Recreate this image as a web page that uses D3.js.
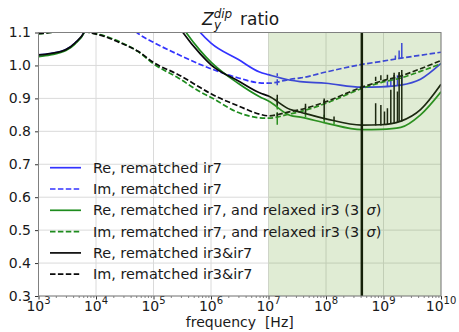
<!DOCTYPE html>
<html>
<head>
<meta charset="utf-8">
<script src="https://cdn.jsdelivr.net/npm/d3@7"></script>
<style>
  body { margin: 0; background: #fff; }
  text { font-family: 'DejaVu Sans', sans-serif; fill: #1a1a1a; }
</style>
</head>
<body>
<div id="container"></div>
<script>
// frequency grid [Hz]
const freq = [1e3, 1.6e3, 3e3, 4.3e3, 6.4e3, 1.4e4, 2.7e4, 5.4e4, 1e5, 2.7e5, 6.5e5, 1e6,
  3e6, 7e6, 1e7, 2.4e7, 3.6e7, 1e8, 4.2e8, 9e8, 2e9, 4.4e9, 1e10]

const reIr7 = [1.032, 1.036, 1.048, 1.068, 1.105, 1.4, 1.5, 1.45, 1.33, 1.2, 1.1, 1.068,
  1.018, 0.98, 0.972, 0.955, 0.951, 0.946, 0.934, 0.935, 0.94, 0.958, 1.006]
const imIr7 = [1.2, 1.2, 1.2, 1.2, 1.2, 1.2, 1.15, 1.097, 1.07, 1.033, 1.003, 0.99,
  0.962, 0.947, 0.946, 0.958, 0.962, 0.98, 1.003, 1.012, 1.022, 1.031, 1.04]
const reRelax = [1.027, 1.032, 1.045, 1.065, 1.103, 1.35, 1.45, 1.4, 1.27, 1.135, 1.045, 1.01,
  0.945, 0.905, 0.892, 0.848, 0.843, 0.825, 0.805, 0.806, 0.812, 0.85, 0.92]
const imRelax = [1.096, 1.1, 1.113, 1.116, 1.104, 1.09, 1.07, 1.042, 1.005, 0.962, 0.92, 0.903,
  0.857, 0.841, 0.84, 0.853, 0.86, 0.885, 0.93, 0.948, 0.962, 0.982, 1.005]
const reIr3ir7 = [1.032, 1.036, 1.048, 1.068, 1.105, 1.35, 1.45, 1.4, 1.25, 1.12, 1.035, 1.002,
  0.953, 0.917, 0.907, 0.866, 0.858, 0.838, 0.819, 0.82, 0.831, 0.866, 0.943]
const imIr3ir7 = [1.097, 1.1, 1.115, 1.118, 1.105, 1.088, 1.068, 1.043, 1.009, 0.972, 0.933, 0.914,
  0.877, 0.852, 0.847, 0.86, 0.866, 0.89, 0.934, 0.952, 0.968, 0.99, 1.015]

// resonance spikes: [frequency, base, tip]
const reIr7Spikes = [[1.42e7, 0.968, 0.976], [1.17e9, 0.936, 0.952], [1.34e9, 0.937, 0.958],
  [1.53e9, 0.937, 0.962], [1.75e9, 0.938, 0.97], [2.08e9, 0.939, 0.968]]
const imIr7Spikes = [[1.42e7, 0.94, 0.958], [1.61e9, 1.019, 1.03], [1.87e9, 1.02, 1.045],
  [2.08e9, 1.021, 1.068]]
const reRelaxSpikes = [[1.42e7, 0.866, 0.901], [4.4e7, 0.843, 0.862], [9.3e7, 0.826, 0.85],
  [1.38e8, 0.822, 0.834]]
const imRelaxSpikes = [[1.42e7, 0.82, 0.858]]
const reIr3ir7Spikes = [[1.42e7, 0.878, 0.911], [4.4e7, 0.855, 0.875], [9.3e7, 0.836, 0.895],
  [1.38e8, 0.833, 0.845], [7.3e8, 0.818, 0.885], [9.0e8, 0.818, 0.88], [1.04e9, 0.819, 0.86],
  [1.17e9, 0.82, 0.87], [1.34e9, 0.822, 0.926], [1.53e9, 0.824, 0.971], [1.75e9, 0.826, 0.921],
  [1.87e9, 0.828, 0.976], [2.08e9, 0.83, 0.986]]
const imIr3ir7Spikes = [[1.42e7, 0.845, 0.856], [4.4e7, 0.872, 0.884], [9.3e7, 0.888, 0.9],
  [7.3e8, 0.953, 0.966], [9.0e8, 0.955, 0.97], [1.17e9, 0.958, 0.972], [1.53e9, 0.962, 0.978],
  [1.87e9, 0.965, 0.98]]

const yTicks = [0.3, 0.4, 0.5, 0.6, 0.7, 0.8, 0.9, 1.0, 1.1]
const xExponents = [3, 4, 5, 6, 7, 8, 9, 10]
const shadeRange = [1e7, 1e10]
const markerFreq = 4.2e8

const legendLabels = [
  'Re, rematched ir7',
  'Im, rematched ir7',
  'Re, rematched ir7, and relaxed ir3 (3 σ)',
  'Im, rematched ir7, and relaxed ir3 (3 σ)',
  'Re, rematched ir3&ir7',
  'Im, rematched ir3&ir7'
]

const width = 459
const height = 332
const margin = { top: 32.5, right: 18, bottom: 36, left: 38.5 }

const BLUE = 'rgb(51,51,255)'
const GREEN = 'rgb(30,140,30)'
const BLACK = 'rgb(10,10,10)'

const series = [
  { values: reIr7, spikes: reIr7Spikes, color: BLUE, dash: null },
  { values: imIr7, spikes: imIr7Spikes, color: BLUE, dash: '5.5,2.4' },
  { values: reRelax, spikes: reRelaxSpikes, color: GREEN, dash: null },
  { values: imRelax, spikes: imRelaxSpikes, color: GREEN, dash: '5.5,2.4' },
  { values: reIr3ir7, spikes: reIr3ir7Spikes, color: BLACK, dash: null },
  { values: imIr3ir7, spikes: imIr3ir7Spikes, color: BLACK, dash: '5.5,2.4' }
]

const svg = d3.select('#container')
  .append('svg')
  .attr('width', width)
  .attr('height', height)

const xScale = d3.scaleLog()
  .domain([1e3, 1e10])
  .range([margin.left, width - margin.right])
const yScale = d3.scaleLinear()
  .domain([0.3, 1.1])
  .range([height - margin.bottom, margin.top])

const x0 = xScale.range()[0]
const x1 = xScale.range()[1]
const y0 = yScale.range()[1]
const y1 = yScale.range()[0]

svg.append('defs').append('clipPath')
  .attr('id', 'plot-clip')
  .append('rect')
  .attr('x', x0).attr('y', y0)
  .attr('width', x1 - x0).attr('height', y1 - y0)

// grid
const grid = svg.append('g').attr('stroke', '#dadada').attr('stroke-width', 1)
grid.selectAll('.gx')
  .data(xExponents)
  .enter().append('line')
  .attr('x1', d => xScale(Math.pow(10, d))).attr('x2', d => xScale(Math.pow(10, d)))
  .attr('y1', y0).attr('y2', y1)
grid.selectAll('.gy')
  .data(yTicks)
  .enter().append('line')
  .attr('x1', x0).attr('x2', x1)
  .attr('y1', d => yScale(d)).attr('y2', d => yScale(d))

// curves
const plot = svg.append('g').attr('clip-path', 'url(#plot-clip)')
const line = d3.line()
  .x((d, i) => xScale(freq[i]))
  .y(d => yScale(d))
  .curve(d3.curveMonotoneX)

series.forEach(s => {
  plot.append('path')
    .datum(s.values)
    .attr('fill', 'none')
    .attr('stroke', s.color)
    .attr('stroke-width', 1.7)
    .attr('stroke-dasharray', s.dash)
    .attr('d', line)
  plot.selectAll(null)
    .data(s.spikes)
    .enter().append('line')
    .attr('x1', d => xScale(d[0])).attr('x2', d => xScale(d[0]))
    .attr('y1', d => yScale(d[1])).attr('y2', d => yScale(d[2]))
    .attr('stroke', s.color)
    .attr('stroke-width', 1.5)
})

// marker line
plot.append('line')
  .attr('x1', xScale(markerFreq)).attr('x2', xScale(markerFreq))
  .attr('y1', y0).attr('y2', y1)
  .attr('stroke', '#000')
  .attr('stroke-width', 2.5)

// shaded band on top
plot.append('rect')
  .attr('x', xScale(shadeRange[0]))
  .attr('y', y0)
  .attr('width', xScale(shadeRange[1]) - xScale(shadeRange[0]))
  .attr('height', y1 - y0)
  .attr('fill', 'rgb(98,160,40)')
  .attr('fill-opacity', 0.2)

// axes
const yAxis = svg.append('g')
  .attr('transform', `translate(${x0},0)`)
  .call(d3.axisLeft(yScale).tickValues(yTicks).tickFormat(d3.format('.1f')).tickSize(3.5).tickPadding(4))
yAxis.select('.domain').remove()
yAxis.selectAll('line').attr('stroke', '#333')
yAxis.selectAll('text').style('font-size', '14px').attr('fill', '#1a1a1a')

const minorTicks = []
for (let e = 3; e < 10; e++) {
  for (let m = 2; m <= 9; m++) minorTicks.push(m * Math.pow(10, e))
}
const xMinor = svg.append('g')
  .attr('transform', `translate(0,${y1})`)
  .call(d3.axisBottom(xScale).tickValues(minorTicks).tickFormat('').tickSize(2))
xMinor.select('.domain').remove()
xMinor.selectAll('line').attr('stroke', '#333').attr('stroke-width', 0.6)

const xAxis = svg.append('g')
  .attr('transform', `translate(0,${y1})`)
  .call(d3.axisBottom(xScale).tickValues(xExponents.map(e => Math.pow(10, e))).tickFormat('').tickSize(3.5))
xAxis.select('.domain').remove()
xAxis.selectAll('line').attr('stroke', '#333')

const xLabels = svg.append('g')
xExponents.forEach(e => {
  const t = xLabels.append('text')
    .attr('x', xScale(Math.pow(10, e)))
    .attr('y', 311)
    .attr('text-anchor', 'middle')
    .style('font-size', '14px')
  t.append('tspan').text('10')
  t.append('tspan').attr('dy', -7).style('font-size', '10px').text(String(e))
})

// frame
svg.append('rect')
  .attr('x', x0).attr('y', y0)
  .attr('width', x1 - x0).attr('height', y1 - y0)
  .attr('fill', 'none')
  .attr('stroke', '#808080')
  .attr('stroke-width', 1)

// axis label
svg.append('text')
  .attr('x', (x0 + x1) / 2)
  .attr('y', 327)
  .attr('text-anchor', 'middle')
  .style('font-size', '14px')
  .style('white-space', 'pre')
  .text('frequency  [Hz]')

// title: Z with stacked super/subscript, then "ratio"
const title = svg.append('text')
  .attr('x', 202)
  .attr('y', 25)
  .style('font-size', '17px')
title.append('tspan').style('font-style', 'italic').text('Z')
title.append('tspan').attr('dy', -7).style('font-style', 'italic').style('font-size', '12px').text('dip')
title.append('tspan').attr('x', 214).attr('dy', 11).style('font-style', 'italic').style('font-size', '12px').text('y')
title.append('tspan').attr('x', 240).attr('dy', -4).text('ratio')

// legend
const legend = svg.append('g').attr('transform', 'translate(50,167.7)')
const rows = legend.selectAll('g')
  .data(series)
  .enter().append('g')
  .attr('transform', (d, i) => `translate(0,${i * 21.3})`)
rows.append('line')
  .attr('x1', 0).attr('x2', 31)
  .attr('y1', 0).attr('y2', 0)
  .attr('stroke', d => d.color)
  .attr('stroke-width', 1.7)
  .attr('stroke-dasharray', d => d.dash)
rows.append('text')
  .attr('x', 43)
  .attr('y', 5)
  .style('font-size', '14.4px')
  .style('white-space', 'pre')
  .each(function (d, i) {
    const label = legendLabels[i]
    const k = label.indexOf('σ')
    const t = d3.select(this)
    if (k < 0) {
      t.text(label)
    } else {
      t.append('tspan').text(label.slice(0, k).replace(/ $/, '\u00a0\u2009'))
      t.append('tspan').style('font-style', 'italic').text('σ')
      t.append('tspan').text(label.slice(k + 1))
    }
  })
</script>
</body>
</html>
